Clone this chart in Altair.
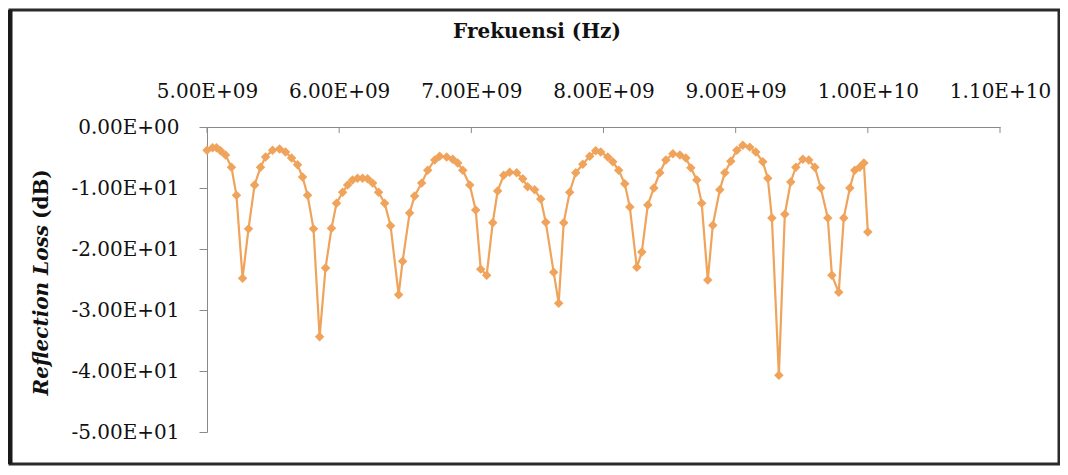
import altair as alt
import pandas as pd

# Frequency (GHz) and Reflection Loss (dB)
freq_ghz = [5.000, 5.042, 5.072, 5.102, 5.140, 5.185, 5.223, 5.269, 5.314, 5.360,
            5.405, 5.443, 5.496, 5.549, 5.594, 5.640, 5.685, 5.723, 5.761, 5.806,
            5.852, 5.897, 5.942, 5.980, 6.026, 6.064, 6.101, 6.139, 6.177, 6.215,
            6.253, 6.298, 6.344, 6.389, 6.450, 6.480, 6.533, 6.571, 6.624, 6.670,
            6.723, 6.760, 6.813, 6.859, 6.897, 6.935, 6.988, 7.033, 7.071, 7.116,
            7.162, 7.199, 7.245, 7.290, 7.343, 7.389, 7.426, 7.479, 7.525, 7.563,
            7.623, 7.661, 7.699, 7.744, 7.790, 7.843, 7.896, 7.941, 7.979, 8.032,
            8.070, 8.115, 8.161, 8.199, 8.252, 8.290, 8.335, 8.381, 8.426, 8.472,
            8.525, 8.578, 8.623, 8.661, 8.706, 8.743, 8.789, 8.827, 8.880, 8.918,
            8.963, 9.009, 9.054, 9.107, 9.152, 9.205, 9.243, 9.274, 9.327, 9.372,
            9.417, 9.455, 9.508, 9.553, 9.599, 9.644, 9.697, 9.728, 9.780, 9.818,
            9.864, 9.901, 9.939, 9.970, 10.000]
rl_db = [-3.8, -3.4, -3.4, -3.9, -4.6, -6.6, -11.2, -24.8, -16.7, -9.5,
         -6.6, -4.9, -3.8, -3.6, -4.1, -5.1, -6.2, -8.2, -11.2, -16.7,
         -34.4, -23.1, -16.6, -12.5, -10.7, -9.5, -8.7, -8.4, -8.4, -8.5,
         -9.2, -10.7, -12.5, -16.2, -27.5, -22.0, -14.1, -11.3, -9.2, -7.1,
         -5.4, -4.8, -4.9, -5.3, -5.9, -7.1, -9.5, -13.6, -23.3, -24.3,
         -15.7, -10.5, -7.9, -7.4, -7.5, -8.5, -9.8, -10.3, -11.8, -15.6,
         -23.8, -28.9, -15.7, -10.7, -7.5, -6.1, -4.8, -3.9, -4.1, -4.9,
         -5.7, -7.1, -9.3, -13.1, -23.0, -20.5, -12.8, -10.0, -7.5, -5.4,
         -4.4, -4.6, -5.1, -6.7, -8.7, -12.5, -25.1, -16.1, -10.3, -7.5,
         -5.6, -3.8, -3.0, -3.3, -4.1, -5.7, -8.4, -14.9, -40.7, -14.3,
         -9.0, -6.6, -5.3, -5.4, -6.6, -10.0, -14.9, -24.3, -27.1, -14.9,
         -10.0, -7.1, -6.6, -5.9, -17.2]

x_ticks = [5, 6, 7, 8, 9, 10, 11]
y_ticks = [0, -10, -20, -30, -40, -50]

FONT = "DejaVu Serif"
ORANGE = "#F0A35A"
AXIS_GRAY = "#8a8a8a"

df = pd.DataFrame({"f": freq_ghz, "rl": rl_db})
ticks_df = pd.DataFrame({"t": x_ticks})
one = pd.DataFrame({"a": [0]})

x_scale = alt.Scale(domain=[5, 11], nice=False, zero=False)
y_scale = alt.Scale(domain=[-50, 0], nice=False)

x_enc = alt.X(
    "f:Q", scale=x_scale, title=None,
    axis=alt.Axis(orient="top", values=x_ticks, ticks=False, tickSize=0,
                  labelPadding=26, grid=False, domainColor=AXIS_GRAY,
                  labelOverlap=False, labelFlush=False,
                  labelFont=FONT, labelFontSize=20, labelColor="#111",
                  labelExpr="datum.value < 9.5 ? format(datum.value, '.2f') + 'E+09' : format(datum.value / 10, '.2f') + 'E+10'"))
y_enc = alt.Y(
    "rl:Q", scale=y_scale, title=None,
    axis=alt.Axis(values=y_ticks, tickSize=8, tickColor=AXIS_GRAY, labelPadding=20,
                  grid=False, domainColor=AXIS_GRAY, labelFont=FONT,
                  labelOverlap=False, labelFlush=False,
                  labelFontSize=20, labelColor="#111",
                  labelExpr="datum.value == 0 ? '0.00E+00' : '-' + format(abs(datum.value) / 10, '.2f') + 'E+01'"))

line = alt.Chart(df).mark_line(color=ORANGE, strokeWidth=2.2).encode(x=x_enc, y=y_enc)
points = alt.Chart(df).mark_point(shape="diamond", filled=True, color=ORANGE,
                                  size=90, opacity=1).encode(x="f:Q", y="rl:Q")

inner_ticks = alt.Chart(ticks_df).mark_rule(color=AXIS_GRAY, strokeWidth=1).encode(
    x=alt.X("t:Q", scale=x_scale), y=alt.value(0), y2=alt.value(6))

x_title = alt.Chart(one).mark_text(
    text="Frekuensi (Hz)", font=FONT, fontSize=20, fontWeight="bold",
    align="center", baseline="middle", color="#111").encode(
    x=alt.value(330), y=alt.value(-95))

y_title_a = alt.Chart(one).mark_text(
    text="Reflection Loss", font=FONT, fontSize=20, fontWeight="bold",
    fontStyle="italic", angle=270, align="right", baseline="middle",
    color="#111").encode(x=alt.value(-165), y=alt.value(98))
y_title_b = alt.Chart(one).mark_text(
    text="(dB)", font=FONT, fontSize=20, fontWeight="bold", angle=270,
    align="left", baseline="middle", color="#111").encode(
    x=alt.value(-165), y=alt.value(92))

border = alt.Chart(one).mark_rect(fillOpacity=0, stroke="#2a2a2a", strokeWidth=3).encode(
    x=alt.value(-197), x2=alt.value(852), y=alt.value(-117), y2=alt.value(337))
border_left = alt.Chart(one).mark_rule(color="#1a1a1a", strokeWidth=5).encode(
    x=alt.value(-197), y=alt.value(-117), y2=alt.value(337))

chart = alt.layer(border, border_left, line, points, inner_ticks, x_title,
                  y_title_a, y_title_b).properties(
    width=793, height=305,
    autosize=alt.AutoSizeParams(type="none"),
    padding={"left": 199, "top": 119, "right": 60, "bottom": 35},
    background="white",
).configure_view(stroke=None)

chart.save("out.html", embed_options={"renderer": "svg", "actions": False})
